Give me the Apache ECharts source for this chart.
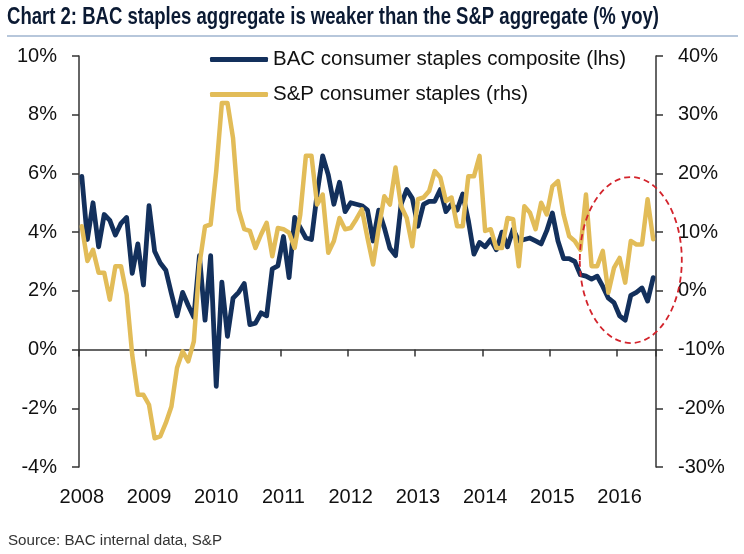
<!DOCTYPE html>
<html><head><meta charset="utf-8">
<script src="https://cdn.jsdelivr.net/npm/echarts@6/dist/echarts.min.js"></script>
<style>html,body{margin:0;padding:0;background:#fff}#c{width:744px;height:554px}</style>
</head><body><div id="c"></div>
<script>
// ---- data (monthly, Jan 2008 .. Jul 2016) ----
const yearLabels = ['2008','2009','2010','2011','2012','2013','2014','2015','2016'];
const firstYear = 2008;
const bacComposite = [ // % yoy, lhs
 5.9,3.75,5.0,3.5,4.6,4.4,3.9,4.3,4.5,2.6,3.6,2.2,
 4.9,3.35,2.95,2.7,1.9,1.15,1.95,1.5,1.1,3.2,1.0,3.2,
 -1.25,2.3,0.45,1.75,1.95,2.25,0.85,0.9,1.25,1.15,2.75,2.85,
 3.85,2.45,4.5,4.15,3.8,3.75,5.3,6.6,5.95,4.95,5.7,4.7,
 5.0,4.95,4.9,4.75,3.7,4.75,4.15,3.45,3.2,4.95,5.45,5.15,
 4.2,4.95,5.05,5.05,5.45,4.7,4.95,4.75,5.3,4.4,3.25,3.65,
 3.5,3.75,3.4,4.0,3.5,4.1,3.7,3.75,3.8,3.7,3.6,4.05,
 4.65,3.7,3.1,3.1,3.0,2.55,2.5,2.4,2.5,2.15,1.75,1.6,
 1.15,1.0,1.85,1.95,2.1,1.65,2.45
];
const spStaples = [ // % yoy, rhs
 11.0,5.1,7.0,3.1,3.1,-1.5,4.2,4.2,-0.6,-10.9,-17.7,-17.7,
 -19.4,-25.1,-24.8,-22.5,-19.7,-13.1,-10.3,-12.0,-8.6,4.5,11.0,11.3,
 20.4,32.0,32.0,26.0,13.8,10.5,10.2,7.3,9.6,11.6,5.9,10.7,
 10.5,9.9,7.3,13.0,23.0,23.0,14.7,16.4,6.5,8.5,12.4,10.5,
 10.7,12.2,13.9,9.0,4.5,10.7,16.1,14.7,21.0,14.4,12.4,7.6,
 15.6,15.9,17.0,20.4,19.3,15.3,15.9,11.0,11.0,19.5,19.5,23.0,
 10.2,10.5,7.3,7.3,12.4,12.2,4.2,14.4,13.3,10.5,15.0,13.0,
 17.8,18.7,13.0,9.3,8.5,7.0,16.4,4.2,4.2,6.8,-0.3,3.9,
 5.6,1.4,8.5,7.9,7.9,15.6,8.8
];
const leftAxisRange = {min:-4, max:10, interval:2};
const rightAxisRange = {min:-30, max:40, interval:10};
const seriesNames = ['BAC consumer staples composite (lhs)','S&P consumer staples (rhs)'];
const titleText = 'Chart 2: BAC staples aggregate is weaker than the S&P aggregate (% yoy)';
const sourceText = 'Source: BAC internal data, S&P';

const months = [];
for (let i = 0; i < bacComposite.length; i++) {
  months.push((firstYear + Math.floor(i/12)) + '-' + String(i%12 + 1).padStart(2,'0'));
}

function fitScale(text, font, target) {
  const ctx = document.createElement('canvas').getContext('2d');
  ctx.font = font;
  return target / ctx.measureText(text).width;
}

const NAVY = '#13305c', GOLD = '#e2bc58', AXIS = '#333333';
const FONT = '"Liberation Sans", Arial, Helvetica, sans-serif';
const titleFont = 'bold 24px "Liberation Sans Narrow", "Liberation Sans", Arial, sans-serif';
const sourceFont = '14px "Liberation Sans Narrow", "Liberation Sans", Arial, sans-serif';

const chart = echarts.init(document.getElementById('c'), null, {renderer:'canvas'});
const yearIdx = (idx) => idx % 12 === 0;

chart.setOption({
  animation: false,
  backgroundColor: '#ffffff',
  grid: {left: 79, right: 88, top: 56, bottom: 87, containLabel: false},
  legend: {
    orient: 'vertical', left: 205, top: 44,
    itemWidth: 58, itemHeight: 5, itemGap: 14,
    icon: 'roundRect',
    textStyle: {fontSize: 20.5, color: '#111', fontFamily: FONT, padding: [0,0,0,0]},
    data: seriesNames
  },
  xAxis: [{
    type: 'category', data: months, boundaryGap: true, position: 'bottom',
    axisLine: {onZero: true, onZeroAxisIndex: 0, lineStyle: {color: AXIS, width: 1.5}},
    axisTick: {show: true, interval: (i) => yearIdx(i), length: 7, lineStyle: {color: AXIS, width: 1.5}},
    axisLabel: {show: false},
    splitLine: {show: false}
  }, {
    type: 'category', data: months, boundaryGap: true, position: 'bottom',
    axisLine: {show: false, onZero: false},
    axisTick: {show: false},
    axisLabel: {show: true, interval: (i) => yearIdx(i), margin: 20,
      formatter: (v) => yearLabels[yearLabels.indexOf(v.slice(0,4))],
      fontSize: 20, color: '#111', fontFamily: FONT},
    splitLine: {show: false}
  }],
  yAxis: [{
    type: 'value', position: 'left',
    min: leftAxisRange.min, max: leftAxisRange.max, interval: leftAxisRange.interval,
    axisLine: {show: true, lineStyle: {color: AXIS, width: 1.5}},
    axisTick: {show: true, length: 7, lineStyle: {color: AXIS, width: 1.5}},
    axisLabel: {formatter: '{value}%', fontSize: 20, color: '#111', fontFamily: FONT, margin: 22},
    splitLine: {show: false}
  }, {
    type: 'value', position: 'right',
    min: rightAxisRange.min, max: rightAxisRange.max, interval: rightAxisRange.interval,
    axisLine: {show: true, lineStyle: {color: AXIS, width: 1.5}},
    axisTick: {show: true, length: 7, lineStyle: {color: AXIS, width: 1.5}},
    axisLabel: {formatter: '{value}%', fontSize: 20, color: '#111', fontFamily: FONT, margin: 22},
    splitLine: {show: false}
  }],
  series: [{
    name: seriesNames[0], type: 'line', data: bacComposite,
    xAxisIndex: 0, yAxisIndex: 0, showSymbol: false, symbol: 'none', z: 3,
    itemStyle: {color: NAVY},
    lineStyle: {color: NAVY, width: 4.8, cap: 'round', join: 'round'}
  }, {
    name: seriesNames[1], type: 'line', data: spStaples,
    xAxisIndex: 0, yAxisIndex: 1, showSymbol: false, symbol: 'none', z: 4,
    itemStyle: {color: GOLD},
    lineStyle: {color: GOLD, width: 4.5, cap: 'round', join: 'round'}
  }]
});

// annotation ellipse around the recent period (anchored to data coordinates)
const ctr = chart.convertToPixel({xAxisIndex: 0, yAxisIndex: 0}, [98, 3.05]);

chart.setOption({
  graphic: [{
    type: 'text', x: 7, y: 5, scaleX: fitScale(titleText, titleFont, 652),
    style: {text: titleText, font: titleFont, fill: '#0b1a33', verticalAlign: 'top'}
  }, {
    type: 'line', shape: {x1: 7, y1: 36, x2: 738, y2: 36},
    style: {stroke: '#9fb4cf', lineWidth: 1.5}
  }, {
    type: 'text', x: 8, y: 534, scaleX: fitScale(sourceText, sourceFont, 214),
    style: {text: sourceText, font: sourceFont, fill: '#333333', verticalAlign: 'top'}
  }, {
    type: 'ellipse', shape: {cx: ctr[0], cy: ctr[1], rx: 51, ry: 83},
    style: {fill: 'none', stroke: '#d3242c', lineWidth: 1.8, lineDash: [6, 4]}, z: 10
  }]
});
</script></body></html>
